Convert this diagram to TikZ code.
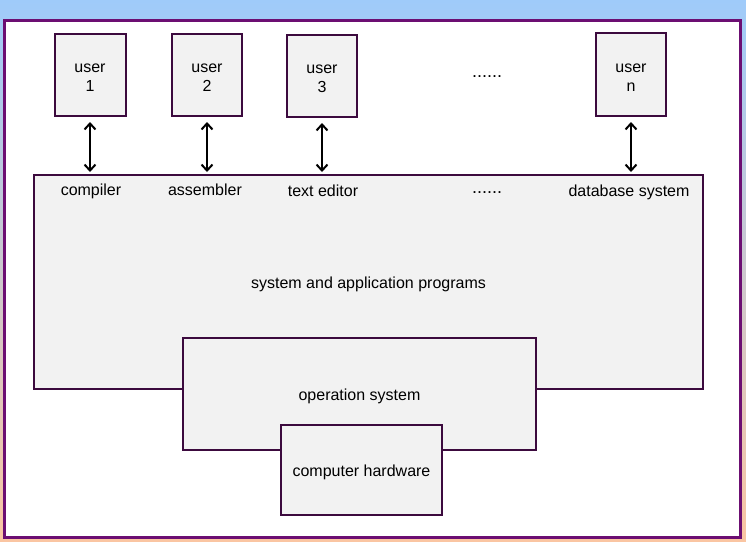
\documentclass[tikz,border=0pt]{standalone}
\usepackage{fontspec}
\setmainfont{Liberation Sans}
\usetikzlibrary{arrows.meta}
\definecolor{bgtop}{RGB}{159,203,250}
\definecolor{bgbot}{RGB}{250,197,162}
\definecolor{framecol}{RGB}{108,14,114}
\definecolor{boxline}{RGB}{60,10,62}
\definecolor{boxfill}{RGB}{242,242,242}
\begin{document}
\begin{tikzpicture}[x=1pt,y=-1pt,
  every node/.style={font=\fontsize{16}{19}\selectfont, inner sep=0pt, outer sep=0pt},
  box/.style={draw=boxline, fill=boxfill, line width=2pt},
  txt/.style={align=center},
  lbl/.style={anchor=base},
  link/.style={line width=2pt, {Straight Barb[length=6pt,width=11pt,line width=2pt]}-{Straight Barb[length=6pt,width=11pt,line width=2pt]}, shorten <=6pt, shorten >=3pt}]
\useasboundingbox (0,0) rectangle (746,541);
\shade[top color=bgtop, bottom color=bgbot] (0,0) rectangle (746,541);
\draw[framecol, fill=white, line width=3pt] (4.7,20.7) rectangle (740.5,537);
% users
\node[box, minimum width=71pt, minimum height=82pt] (u1) at (90,75) {};
\node[txt] (u1t) at ([yshift=-3pt]u1.center) {user\\1};
\node[box, minimum width=70pt, minimum height=82pt] (u2) at (207,75) {};
\node[txt] (u2t) at ([yshift=-3pt]u2.center) {user\\2};
\node[box, minimum width=70pt, minimum height=82pt] (u3) at (322,76) {};
\node[txt] (u3t) at ([yshift=-3pt]u3.center) {user\\3};
\node[box, minimum width=70pt, minimum height=83pt] (un) at (631,74.5) {};
\node[txt] (unt) at ([yshift=-3pt]un.center) {user\\n};
\node[lbl, font=\fontsize{18}{19}\selectfont] (dots1) at (487,77.5) {......};
% programs
\node[box, minimum width=669pt, minimum height=214pt] (apps) at (368.5,282) {};
\node[txt] (appst) at ([yshift=-2.5pt]apps.center) {system and application programs};
\node[box, minimum width=353pt, minimum height=112pt] (os) at (359.5,394) {};
\node[txt] (ost) at ([yshift=-2.5pt]os.center) {operation system};
\node[box, minimum width=161pt, minimum height=90pt] (hw) at (361.5,470) {};
\node[txt] (hwt) at ([yshift=-2.5pt]hw.center) {computer hardware};
% labels
\node[lbl] (l1) at (91,195) {compiler};
\node[lbl] (l2) at (205,195) {assembler};
\node[lbl] (l3) at (323,196) {text editor};
\node[lbl, font=\fontsize{18}{19}\selectfont] (dots2) at (487,193) {......};
\node[lbl] (ln) at (629,196) {database system};
% arrows
\draw[link] (u1.south) -- (u1.south |- apps.north);
\draw[link] (u2.south) -- (u2.south |- apps.north);
\draw[link] (u3.south) -- (u3.south |- apps.north);
\draw[link] (un.south) -- (un.south |- apps.north);
\end{tikzpicture}
\end{document}
